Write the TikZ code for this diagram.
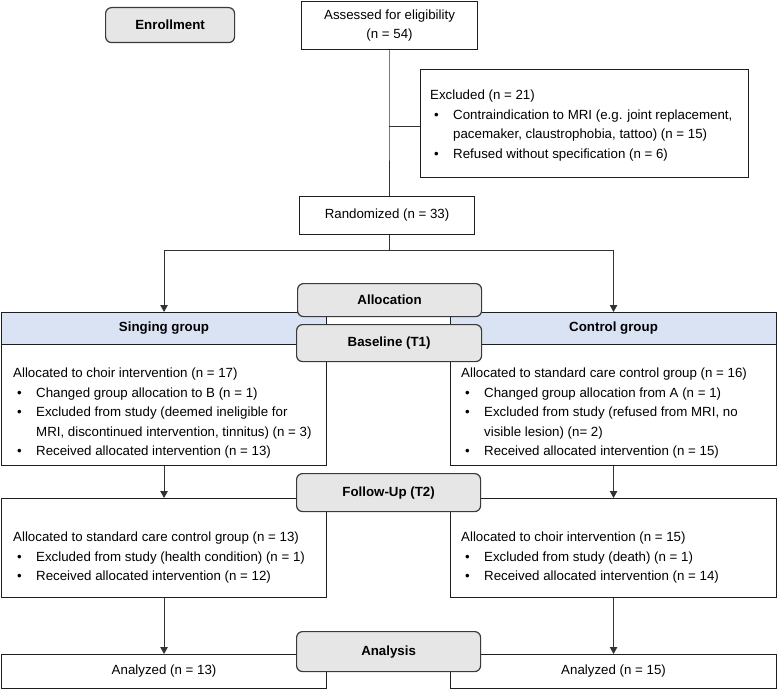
\documentclass[tikz,border=0pt]{standalone}
\usepackage{fontspec}
\setmainfont{Liberation Sans}
\usetikzlibrary{arrows.meta}
\definecolor{phasefill}{HTML}{E6E6E6}
\definecolor{phaseline}{HTML}{3A3A3A}
\definecolor{hdrfill}{HTML}{DAE3F3}
\definecolor{boxline}{HTML}{1E1E1E}
\definecolor{conn}{HTML}{333333}
\newcommand{\bl}{\hspace*{4pt}\makebox[19pt][l]{\textbullet}}
\newcommand{\cl}{\hspace*{23pt}}
\begin{document}
\begin{tikzpicture}[x=1pt,y=-1pt,
  txt/.style={font=\fontsize{13.3}{19.5}\selectfont},
  box/.style={draw=boxline, line width=1.1pt, inner sep=0pt, anchor=north west, fill=white, txt},
  hdr/.style={draw=boxline, line width=1.1pt, inner sep=0pt, anchor=north west, fill=hdrfill, font=\fontsize{13.3}{16}\selectfont\bfseries},
  phase/.style={draw=phaseline, line width=1.2pt, rounded corners=6pt, fill=phasefill, inner sep=0pt, anchor=north west, font=\fontsize{13.3}{16}\selectfont\bfseries},
  body/.style={inner sep=0pt, anchor=north west, align=left, txt},
  link/.style={draw=conn, line width=0.8pt},
  arr/.style={link, -{Triangle[length=7pt,width=7.5pt]}}
]
\useasboundingbox (0,0) rectangle (777,690);
% enrollment
\node[phase, minimum width=129pt, minimum height=35pt] (enr) at (105,7) {Enrollment};
\node[box, minimum width=176pt, minimum height=48pt, align=center] (assess) at (301,1) {Assessed for eligibility\\(n = 54)};
\node[box, minimum width=328pt, minimum height=108pt] (excl) at (420,69) {};
\node[body] (excltxt) at (430,90) {Excluded (n = 21)\\
\bl Contraindication to MRI (e.g. joint replacement,\\
\cl pacemaker, claustrophobia, tattoo) (n = 15)\\
\bl Refused without specification (n = 6)};
\node[box, minimum width=175pt, minimum height=38pt] (rand) at (299,196) {Randomized (n = 33)};
\coordinate (branch) at (389,126);
\coordinate (split) at (389,250);
\draw[link] (assess.south -| branch) -- (branch) -- (branch |- rand.north);
\draw[link] (branch) -- (branch -| excl.west);
% allocation groups
\node[box, minimum width=325pt, minimum height=153pt] (sing) at (1,312) {};
\node[hdr, minimum width=325pt, minimum height=32pt] (singh) at (1,312) {Singing group};
\node[body] (singtxt) at (13,368) {Allocated to choir intervention (n = 17)\\
\bl Changed group allocation to B (n = 1)\\
\bl Excluded from study (deemed ineligible for\\
\cl MRI, discontinued intervention, tinnitus) (n = 3)\\
\bl Received allocated intervention (n = 13)};
\node[box, minimum width=326pt, minimum height=153pt] (ctrl) at (450,312) {};
\node[hdr, minimum width=326pt, minimum height=32pt] (ctrlh) at (450,312) {Control group};
\node[body] (ctrltxt) at (461,368) {Allocated to standard care control group (n = 16)\\
\bl Changed group allocation from A (n = 1)\\
\bl Excluded from study (refused from MRI, no\\
\cl visible lesion) (n= 2)\\
\bl Received allocated intervention (n = 15)};
\draw[link] (rand.south -| split) -- (split);
\draw[arr] (split) -- (split -| singh.north) -- (singh.north);
\draw[arr] (split) -- (split -| ctrlh.north) -- (ctrlh.north);
% follow-up
\node[box, minimum width=325pt, minimum height=99pt] (fu1) at (1,498) {};
\node[body] (fu1txt) at (13,532) {Allocated to standard care control group (n = 13)\\
\bl Excluded from study (health condition) (n = 1)\\
\bl Received allocated intervention (n = 12)};
\node[box, minimum width=326pt, minimum height=99pt] (fu2) at (450,498) {};
\node[body] (fu2txt) at (461,532) {Allocated to choir intervention (n = 15)\\
\bl Excluded from study (death) (n = 1)\\
\bl Received allocated intervention (n = 14)};
\draw[arr] (sing.south) -- (fu1.north);
\draw[arr] (ctrl.south) -- (fu2.north);
% analysis
\node[box, minimum width=325pt, minimum height=34pt] (an1) at (1,654) {Analyzed (n = 13)};
\node[box, minimum width=326pt, minimum height=34pt] (an2) at (450,654) {Analyzed (n = 15)};
\draw[arr] (fu1.south) -- (an1.north);
\draw[arr] (fu2.south) -- (an2.north);
% phase labels
\node[phase, minimum width=184pt, minimum height=33pt] (alloc) at (297,283) {Allocation};
\node[phase, minimum width=185pt, minimum height=37pt] (base) at (296,324) {Baseline (T1)};
\node[phase, minimum width=184pt, minimum height=38pt] (follow) at (296,473) {Follow-Up (T2)};
\node[phase, minimum width=184pt, minimum height=40pt] (analysis) at (296,631) {Analysis};
\end{tikzpicture}
\end{document}
